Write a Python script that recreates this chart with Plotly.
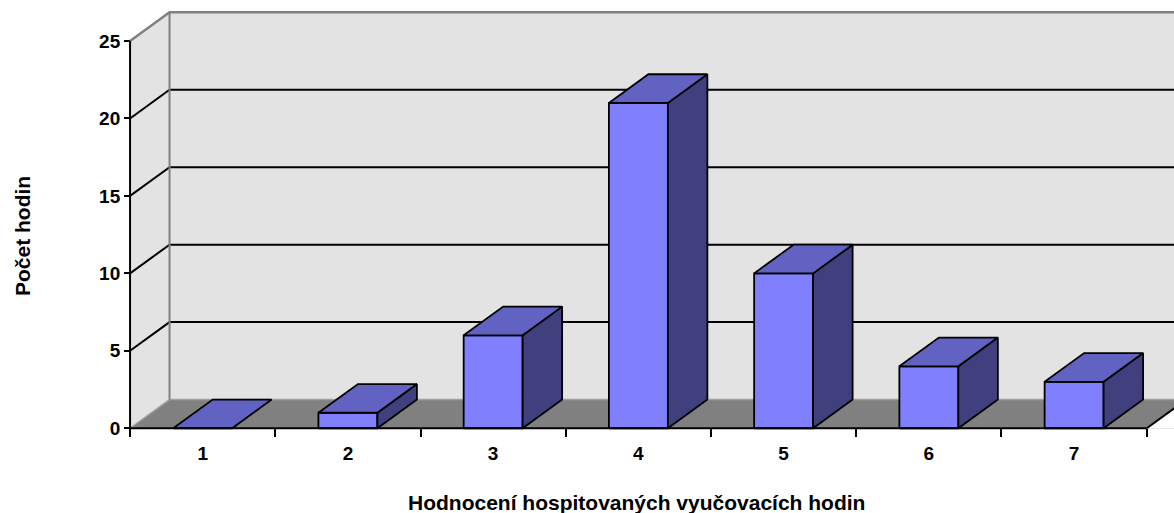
import plotly.graph_objects as go

categories = [1, 2, 3, 4, 5, 6, 7]
values = [0, 1, 6, 21, 10, 4, 3]
y_ticks = [0, 5, 10, 15, 20, 25]
x_title = "Hodnocení hospitovaných vyučovacích hodin"
y_title = "Počet hodin"

# geometry (px scale -> data units)
W, H = 1174, 513
px_cat = 145.24          # pixels per category
px_unit = 15.49          # pixels per value unit
DX = 39.5 / px_cat       # depth offset in x (data units)
DY = 28.7 / px_unit      # depth offset in y (data units)
HW = 0.203               # half bar width

x0_ax = 0.5
x_end = len(categories) + 0.5
ymax_wall = 25
L = 101
B = 77
x_lo = 0.3
y_lo = -0.5
x_hi = x_lo + (W - L) / px_cat
y_hi = y_lo + (H - B) / px_unit
FAR = x_hi + 1

FONT = "Arial, Liberation Sans, sans-serif"

fig = go.Figure()

def poly(xs, ys):
    return "M " + " L ".join(f"{x},{y}" for x, y in zip(xs, ys)) + " Z"

def line(xs, ys):
    return "M " + " L ".join(f"{x},{y}" for x, y in zip(xs, ys))

shapes = []
wall = "#E3E3E3"
# back wall
shapes.append(dict(type="path", layer="below", xref="x", yref="y",
                   path=poly([x0_ax + DX, FAR, FAR, x0_ax + DX], [DY, DY, ymax_wall + DY, ymax_wall + DY]),
                   fillcolor=wall, line=dict(width=0)))
# left wall
shapes.append(dict(type="path", layer="below", xref="x", yref="y",
                   path=poly([x0_ax, x0_ax + DX, x0_ax + DX, x0_ax], [0, DY, ymax_wall + DY, ymax_wall]),
                   fillcolor=wall, line=dict(width=0)))
# floor
shapes.append(dict(type="path", layer="below", xref="x", yref="y",
                   path=poly([x0_ax, FAR, FAR, x0_ax + DX], [0, 0, DY, DY]),
                   fillcolor="#808080", line=dict(width=0)))
# white region right of floor front edge (floor ends at x_end)
shapes.append(dict(type="path", layer="below", xref="x", yref="y",
                   path=poly([x_end, FAR, FAR, x_end + DX], [0, 0, DY, DY]),
                   fillcolor="white", line=dict(width=0)))
# floor back and left edges (light gray)
shapes.append(dict(type="path", layer="below", xref="x", yref="y",
                   path=line([x0_ax, x0_ax + DX, FAR], [0, DY, DY]),
                   line=dict(color="#A0A0A0", width=1.5)))
# gridlines
for v in y_ticks[1:-1]:
    shapes.append(dict(type="path", layer="below", xref="x", yref="y",
                       path=line([x0_ax, x0_ax + DX, FAR], [v, v + DY, v + DY]),
                       line=dict(color="black", width=2)))
# wall borders (gray)
shapes.append(dict(type="path", layer="below", xref="x", yref="y",
                   path=line([x0_ax, x0_ax + DX, FAR], [ymax_wall, ymax_wall + DY, ymax_wall + DY]),
                   line=dict(color="#808080", width=2.5)))
shapes.append(dict(type="path", layer="below", xref="x", yref="y",
                   path=line([x0_ax + DX, x0_ax + DX], [DY, ymax_wall + DY]),
                   line=dict(color="#808080", width=2)))
# floor right edge (black)
shapes.append(dict(type="path", layer="below", xref="x", yref="y",
                   path=line([x_end, x_end + DX], [0, DY]),
                   line=dict(color="black", width=2)))

# bars as filled polygons
fx, fy, tx, ty, sx, sy = [], [], [], [], [], []
for c, v in zip(categories, values):
    a, b = c - HW, c + HW
    if v > 0:
        fx += [a, b, b, a, a, None]
        fy += [0, 0, v, v, 0, None]
        sx += [b, b + DX, b + DX, b, b, None]
        sy += [0, DY, v + DY, v, 0, None]
    tx += [a, b, b + DX, a + DX, a, None]
    ty += [v, v, v + DY, v + DY, v, None]

for xs, ys, col in [(fx, fy, "#8080FF"), (sx, sy, "#40407F"), (tx, ty, "#6262C2")]:
    fig.add_trace(go.Scatter(x=xs, y=ys, mode="lines", fill="toself", fillcolor=col,
                             line=dict(color="black", width=1.8), hoverinfo="skip",
                             showlegend=False))

# front axis lines
shapes.append(dict(type="line", layer="above", xref="x", yref="y",
                   x0=x0_ax, x1=x_end, y0=0, y1=0, line=dict(color="black", width=2)))
shapes.append(dict(type="line", layer="above", xref="x", yref="y",
                   x0=x0_ax, x1=x0_ax, y0=0, y1=ymax_wall, line=dict(color="black", width=2)))

ypos = (0 - y_lo) / (y_hi - y_lo)
xpos = (x0_ax - x_lo) / (x_hi - x_lo)

fig.update_layout(
    width=W, height=H,
    margin=dict(l=L, r=0, t=0, b=B, autoexpand=False),
    plot_bgcolor="white", paper_bgcolor="white",
    shapes=shapes,
    showlegend=False,
    font=dict(family=FONT, color="black"),
    xaxis=dict(range=[x_lo, x_hi], showgrid=False, zeroline=False, showline=False,
               anchor="free", position=ypos,
               tickvals=categories, ticktext=[f"<b>{c}</b>" for c in categories],
               ticks="outside", ticklen=8, tickcolor="rgba(0,0,0,0)",
               ticklabelstandoff=0,
               tickfont=dict(family=FONT, size=19, color="black"),
               minor=dict(tickvals=[c - 0.5 for c in categories] + [x_end],
                          ticks="outside", ticklen=8, tickwidth=2, tickcolor="black", showgrid=False),
               fixedrange=True),
    yaxis=dict(range=[y_lo, y_hi], showgrid=False, zeroline=False, showline=False,
               anchor="free", position=xpos,
               tickvals=y_ticks, ticktext=[f"<b>{t}</b>" for t in y_ticks],
               ticks="outside", ticklen=6, tickwidth=2, tickcolor="black",
               tickfont=dict(family=FONT, size=19, color="black"),
               fixedrange=True),
    annotations=[
        dict(text=f"<b>{y_title}</b>", xref="paper", yref="paper",
             x=(22 - L) / (W - L), y=(H - B - 236) / (H - B), textangle=-90,
             showarrow=False, font=dict(family=FONT, size=21, color="black"),
             xanchor="center", yanchor="middle"),
        dict(text=f"<b>{x_title}</b>", xref="paper", yref="paper",
             x=(636 - L) / (W - L), y=(H - B - 502) / (H - B),
             showarrow=False, font=dict(family=FONT, size=21, color="black"),
             xanchor="center", yanchor="middle"),
    ],
)

fig.write_html("out.html", config={"displayModeBar": False},
               post_script="document.body.style.margin='0';document.body.style.padding='0';")
